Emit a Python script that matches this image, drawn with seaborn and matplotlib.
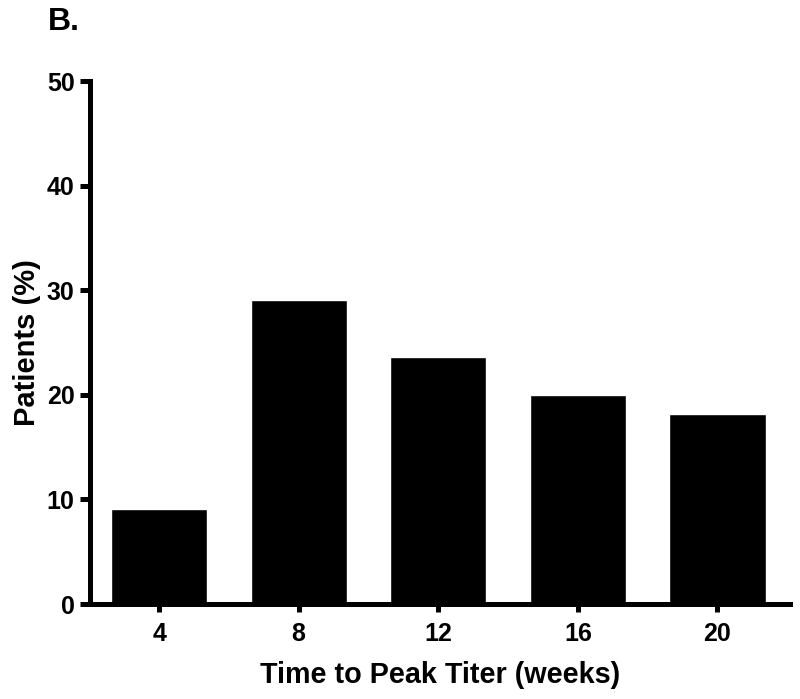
import matplotlib
matplotlib.use("Agg")
import matplotlib.pyplot as plt
import pandas as pd
import seaborn as sns

# Data
weeks = ["4", "8", "12", "16", "20"]
patients_pct = [9.1, 29.1, 23.6, 20.0, 18.2]

df = pd.DataFrame({"weeks": weeks, "pct": patients_pct})

sns.set_style("ticks")
plt.rcParams["font.family"] = ["Liberation Sans", "DejaVu Sans"]
plt.rcParams["font.weight"] = "bold"
plt.rcParams["text.color"] = "black"
plt.rcParams["axes.labelcolor"] = "black"

fig = plt.figure(figsize=(8, 6.99), dpi=100)
ax = fig.add_axes([0.1125, 0.1359, 0.875, 0.7482])

sns.barplot(data=df, x="weeks", y="pct", color="black", saturation=1,
            width=0.69, ax=ax, errorbar=None)

ax.set_xlim(-0.495, 4.52)
ax.set_ylim(0, 50)
ax.set_yticks([0, 10, 20, 30, 40, 50])

for side in ["top", "right"]:
    ax.spines[side].set_visible(False)
for side in ["left", "bottom"]:
    ax.spines[side].set_linewidth(3.6)
    ax.spines[side].set_color("black")

ax.tick_params(axis="y", length=7, width=3.6, labelsize=18, pad=4, colors="black")
ax.tick_params(axis="x", length=6, width=3.6, labelsize=18, pad=7, colors="black")
for lbl in ax.get_xticklabels() + ax.get_yticklabels():
    lbl.set_fontweight("bold")

ax.set_xlabel("Time to Peak Titer (weeks)", fontsize=20.7, fontweight="bold",
              color="black", labelpad=11)
ax.set_ylabel("Patients (%)", fontsize=21, fontweight="bold",
              color="black", labelpad=4)

fig.text(0.06, 0.968, "B.", fontsize=23, fontweight="bold", color="black",
         va="center", ha="left")

fig.savefig("out.png", dpi=100)
